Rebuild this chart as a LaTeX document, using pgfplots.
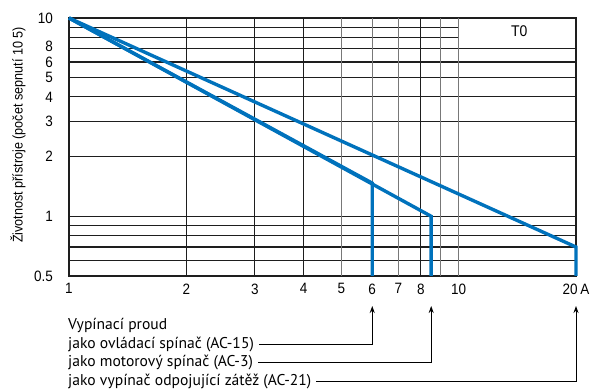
\documentclass[border=0pt]{standalone}
\usepackage{pgfplots}
\pgfplotsset{compat=1.18}
\usepackage{fontspec}
\setmainfont{PT Sans}
\newfontfamily\narrow[FakeStretch=0.9]{Liberation Sans}
\usetikzlibrary{arrows.meta}
\definecolor{cblue}{RGB}{0,114,188}
\definecolor{gdark}{RGB}{30,30,30}
\definecolor{glight}{RGB}{120,120,120}
\begin{document}
\begin{tikzpicture}[x=1pt,y=1pt]
\useasboundingbox (-69,-114) rectangle (523,276);
\begin{axis}[
  at={(0,0)}, anchor=south west, scale only axis,
  width=507pt, height=258pt,
  xmode=log, ymode=log,
  xmin=1, xmax=20, ymin=0.5, ymax=10,
  clip=false,
  axis line style={gdark, line width=1.1pt},
  xtick={1,2,3,4,5,6,7,8,10,20},
  xticklabels={1,2,3,4,5,6,7,8,10,20\,A},
  ytick={0.5,1,2,3,4,5,6,7.2,10},
  yticklabels={0.5,1,2,3,4,5,6,8,10},
  major tick length=0pt, minor tick length=0pt,
  tick label style={font=\narrow\fontsize{15}{17}\selectfont, text=black},
  xticklabel style={anchor=north, yshift=-4pt},
  yticklabel style={anchor=east, inner sep=0.5pt, xshift=-15.5pt},
]
% grid
\draw[gdark, line width=1.1pt] (axis cs:1,0.6) -- (axis cs:20,0.6);
\draw[gdark, line width=1.1pt] (axis cs:1,0.7) -- (axis cs:20,0.7);
\draw[gdark, line width=1.1pt] (axis cs:1,0.8) -- (axis cs:20,0.8);
\draw[gdark, line width=1.1pt] (axis cs:1,0.9) -- (axis cs:20,0.9);
\draw[gdark, line width=1.1pt] (axis cs:1,1) -- (axis cs:20,1);
\draw[gdark, line width=1.1pt] (axis cs:1,2) -- (axis cs:20,2);
\draw[gdark, line width=1.1pt] (axis cs:1,3) -- (axis cs:20,3);
\draw[gdark, line width=1.1pt] (axis cs:1,4) -- (axis cs:20,4);
\draw[gdark, line width=1.1pt] (axis cs:1,5) -- (axis cs:20,5);
\draw[gdark, line width=1.1pt] (axis cs:1,6) -- (axis cs:20,6);
\draw[gdark, line width=1.1pt] (axis cs:1,7) -- (axis cs:20,7);
\draw[gdark, line width=1.1pt] (axis cs:1,8) -- (axis cs:10,8);
\draw[gdark, line width=1.1pt] (axis cs:1,9) -- (axis cs:10,9);
\draw[gdark, line width=1.1pt] (axis cs:2,0.5) -- (axis cs:2,10);
\draw[gdark, line width=1.1pt] (axis cs:3,0.5) -- (axis cs:3,10);
\draw[gdark, line width=1.1pt] (axis cs:4,0.5) -- (axis cs:4,10);
\draw[glight, line width=1.1pt] (axis cs:5,0.5) -- (axis cs:5,10);
\draw[glight, line width=1.1pt] (axis cs:6,0.5) -- (axis cs:6,10);
\draw[glight, line width=1.1pt] (axis cs:7,0.5) -- (axis cs:7,10);
\draw[gdark, line width=1.1pt] (axis cs:8,0.5) -- (axis cs:8,10);
\draw[glight, line width=1.1pt] (axis cs:9,0.5) -- (axis cs:9,10);
\draw[glight, line width=1.1pt] (axis cs:10,0.5) -- (axis cs:10,10);
% curves
\addplot[cblue, line width=3.4pt, line join=miter] coordinates {(1,10) (6,1.47) (6,0.5)};
\addplot[cblue, line width=3.4pt, line join=miter] coordinates {(1,10) (8.5,1.0) (8.5,0.5)};
\addplot[cblue, line width=3.4pt, line join=miter] coordinates {(1,10) (20,0.7) (20,0.5)};
\node[font=\narrow\fontsize{15.5}{17}\selectfont] at (axis cs:14.3,8.55) {T0};
\end{axis}
\node[rotate=90, font=\narrow\fontsize{14}{16}\selectfont] at (-51,141)
  {Životnost přístroje (počet sepnutí 10 5)};
\begin{scope}[font=\fontsize{15.6}{17}\selectfont]
\node[anchor=base west, inner sep=0pt] at (-1,-54) {Vypínací proud};
\node[anchor=base west, inner sep=0pt] (t2) at (-1,-72.5) {jako ovládací spínač (AC-15)};
\node[anchor=base west, inner sep=0pt] (t3) at (-1,-91) {jako motorový spínač (AC-3)};
\node[anchor=base west, inner sep=0pt] (t4) at (-1,-109.5) {jako vypínač odpojující zátěž (AC-21)};
\end{scope}
\draw[line width=1pt, -{Stealth[length=7pt,width=5pt]}] ([xshift=5pt,yshift=4pt]t2.base east) -| (303.24,-30);
\draw[line width=1pt, -{Stealth[length=7pt,width=5pt]}] ([xshift=5pt,yshift=4pt]t3.base east) -| (362.19,-30);
\draw[line width=1pt, -{Stealth[length=7pt,width=5pt]}] ([xshift=5pt,yshift=4pt]t4.base east) -| (507,-30);
\end{tikzpicture}
\end{document}
